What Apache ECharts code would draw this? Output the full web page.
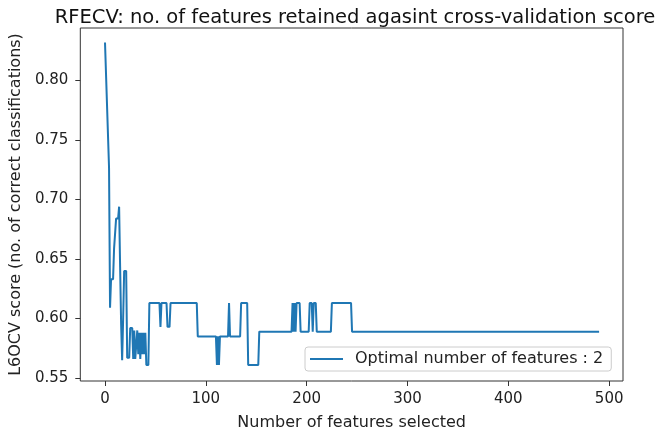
<!DOCTYPE html>
<html>
<head>
<meta charset="utf-8">
<script src="https://cdn.jsdelivr.net/npm/echarts@6/dist/echarts.min.js"></script>
<style>
  html, body { margin: 0; padding: 0; background: #fff; }
  #chart { width: 657px; height: 436px; }
</style>
</head>
<body>
<div id="chart"></div>
<script>
// number of features kept at each step, and the score
const featureCounts = [0, 4, 5, 6, 8, 9, 10, 11, 13, 14, 15, 16, 17, 18, 19, 21, 22, 24, 25, 27,
  28, 29, 30, 31, 32, 33, 34, 35, 36, 37, 38, 39, 40, 41, 43, 44, 54, 55, 56, 61,
  62, 64, 65, 91, 92, 110, 111, 112, 113, 114, 122, 123, 124, 134, 135, 141, 142, 152, 153, 185,
  186, 187, 188, 189, 190, 193, 194, 202, 203, 205, 206, 207, 209, 210, 224, 225, 244, 245, 490];
const cvScores = [0.832, 0.727, 0.609, 0.633, 0.633, 0.659, 0.659, 0.684, 0.684, 0.694, 0.643, 0.595, 0.565, 0.600, 0.640, 0.640, 0.567, 0.567, 0.592, 0.592,
  0.566, 0.590, 0.566, 0.566, 0.590, 0.570, 0.588, 0.566, 0.588, 0.570, 0.588, 0.570, 0.588, 0.561, 0.561, 0.613, 0.613, 0.593, 0.613, 0.613,
  0.593, 0.593, 0.613, 0.613, 0.585, 0.585, 0.561, 0.585, 0.561, 0.585, 0.585, 0.613, 0.585, 0.585, 0.613, 0.613, 0.561, 0.561, 0.589, 0.589,
  0.613, 0.589, 0.613, 0.589, 0.613, 0.613, 0.589, 0.589, 0.613, 0.613, 0.589, 0.613, 0.613, 0.589, 0.589, 0.613, 0.613, 0.589, 0.589];
const xTicks = [0, 100, 200, 300, 400, 500];
const yTicks = [0.55, 0.60, 0.65, 0.70, 0.75, 0.80];

const font = 'DejaVu Sans';
let myChart = echarts.init(document.getElementById('chart'));

myChart.setOption({
  animation: false,
  title: {
    text: 'RFECV: no. of features retained agasint cross-validation score',
    left: 350,
    textAlign: 'center',
    top: 3,
    textStyle: { fontFamily: font, fontSize: 19.5, fontWeight: 'normal', color: '#111' }
  },
  grid: {
    left: 73, right: 34, top: 28, bottom: 52,
    show: true,
    borderColor: '#333',
    borderWidth: 1,
    backgroundColor: '#fff'
  },
  xAxis: {
    type: 'value',
    min: -24.5,
    max: 513.7,
    name: 'Number of features selected',
    nameLocation: 'middle',
    nameGap: 34,
    nameTextStyle: { fontFamily: font, fontSize: 16, color: '#222' },
    axisLine: { show: false, onZero: false },
    splitLine: { show: false },
    axisTick: { show: true, length: 5, customValues: xTicks, lineStyle: { color: '#333' } },
    axisLabel: {
      customValues: xTicks,
      margin: 11,
      fontFamily: font, fontSize: 15, color: '#222'
    }
  },
  yAxis: {
    type: 'value',
    min: 0.5475,
    max: 0.8442,
    name: 'L6OCV score (no. of correct classifications)',
    nameLocation: 'middle',
    nameGap: 54,
    nameTextStyle: { fontFamily: font, fontSize: 16, color: '#222' },
    axisLine: { show: false, onZero: false },
    splitLine: { show: false },
    axisTick: { show: true, length: 5, customValues: yTicks, lineStyle: { color: '#333' } },
    axisLabel: {
      customValues: yTicks,
      margin: 12,
      formatter: v => v.toFixed(2),
      fontFamily: font, fontSize: 15, color: '#222'
    }
  },
  legend: {
    left: 305,
    top: 347,
    padding: [4, 8, 4, 5],
    backgroundColor: 'rgba(255,255,255,0.85)',
    borderColor: '#ccc',
    borderWidth: 1,
    borderRadius: 3,
    icon: 'rect',
    itemWidth: 33,
    itemHeight: 2,
    textStyle: { fontFamily: font, fontSize: 16, color: '#222', padding: [0, 0, 0, 7] },
    data: ['Optimal number of features : 2']
  },
  series: [
    {
      name: 'Optimal number of features : 2',
      type: 'line',
      data: featureCounts.map((x, i) => [x, cvScores[i]]),
      symbol: 'none',
      lineStyle: { color: '#1f77b4', width: 2 },
      itemStyle: { color: '#1f77b4' }
    }
  ]
});
</script>
</body>
</html>
